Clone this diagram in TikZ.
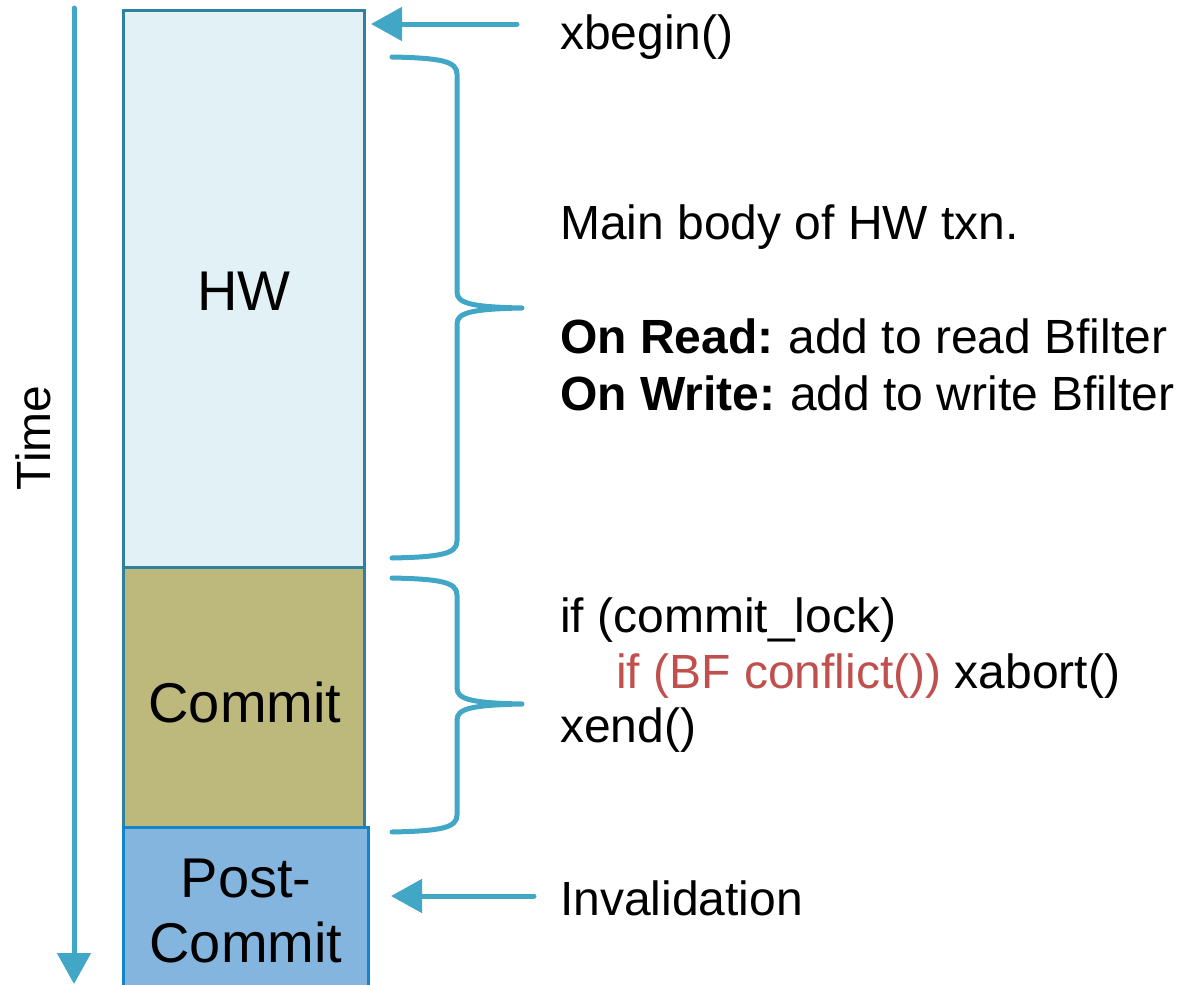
\documentclass[tikz,border=0pt]{standalone}
\usepackage{fontspec}
\setmainfont{Liberation Sans}
\usetikzlibrary{arrows.meta}

\definecolor{flow}{HTML}{42A6C7}
\definecolor{hwfill}{HTML}{E1F1F5}
\definecolor{hwline}{HTML}{31809D}
\definecolor{cmfill}{HTML}{BDB97D}
\definecolor{pcfill}{HTML}{84B5DF}
\definecolor{pcline}{HTML}{1483C9}
\definecolor{codered}{HTML}{C0504D}

\tikzset{
  phase/.style={draw, line width=3pt, inner sep=0pt, anchor=north west},
  boxtext/.style={inner sep=0pt, anchor=base, font=\fontsize{56}{65}\selectfont},
  note/.style={inner sep=0pt, anchor=base west, font=\fontsize{48}{57}\selectfont},
  flowline/.style={draw=flow, line width=5pt, line cap=round},
  pointer/.style={flowline, -{Triangle[length=31pt, width=33pt]}},
  bracket/.style={flowline, line join=round}
}

\begin{document}
\begin{tikzpicture}[x=1pt, y=-1pt]
  \useasboundingbox (0,0) rectangle (1186,985);
  \clip (0,0) rectangle (1186,985);

  % time axis
  \coordinate (tstart) at (74,8);
  \coordinate (tend) at (74,984);
  \draw[pointer] (tstart) -- (tend);
  \node[rotate=90, anchor=base, inner sep=0pt, font=\fontsize{48}{57}\selectfont]
    (time) at (50,438) {Time};

  % transaction phases
  \node[phase, fill=hwfill, draw=hwline, minimum width=241pt, minimum height=557pt]
    (hw) at (122,9) {};
  \node[phase, fill=cmfill, draw=hwline, minimum width=241pt, minimum height=260pt]
    (commit) at (122,566) {};
  \node[phase, fill=pcfill, draw=pcline, minimum width=245pt, minimum height=170pt]
    (post) at (122,826) {};

  \node[boxtext] (hwlabel) at (244,310) {HW};
  \node[boxtext] (commitlabel) at (245,722) {Commit};
  \node[boxtext] (postlabel1) at (246,897) {Post-};
  \node[boxtext] (postlabel2) at (246,962) {Commit};

  % annotations
  \node[note] (xbegin) at (560,49) {xbegin()};
  \node[note] (body) at (560,239) {Main body of HW txn.};
  \node[note] (onread) at (560,353) {\textbf{On Read:}\hspace{-3pt} add to read Bfilter};
  \node[note] (onwrite) at (560,410) {\textbf{On Write:}\hspace{-3pt} add to write Bfilter};
  \node[note] (cond) at (560,632) {if (commit\_lock)};
  \node[note] (check) at (616,688) {\textcolor{codered}{if (BF conflict())} xabort()};
  \node[note] (xend) at (560,742) {xend()};
  \node[note] (inval) at (560,915) {Invalidation};

  % pointers into the timeline
  \coordinate (xbfrom) at (517,24);
  \coordinate (xbto) at (371,24);
  \draw[pointer] (xbfrom) -- (xbto);
  \coordinate (invfrom) at (534,896);
  \coordinate (invto) at (391,896);
  \draw[pointer] (invfrom) -- (invto);

  % brace over the HW phase
  \draw[bracket] (392,57) .. controls (440,58) and (457,61) .. (457,74)
    -- (457,292) .. controls (457,303) and (470,307) .. (522,308)
    .. controls (470,309) and (457,313) .. (457,324)
    -- (457,541) .. controls (457,554) and (440,557) .. (392,558);

  % brace over the commit phase
  \draw[bracket] (392,578) .. controls (440,579) and (457,582) .. (457,595)
    -- (457,688) .. controls (457,699) and (470,703) .. (522,704)
    .. controls (470,705) and (457,709) .. (457,720)
    -- (457,815) .. controls (457,828) and (440,831) .. (392,832);
\end{tikzpicture}
\end{document}
